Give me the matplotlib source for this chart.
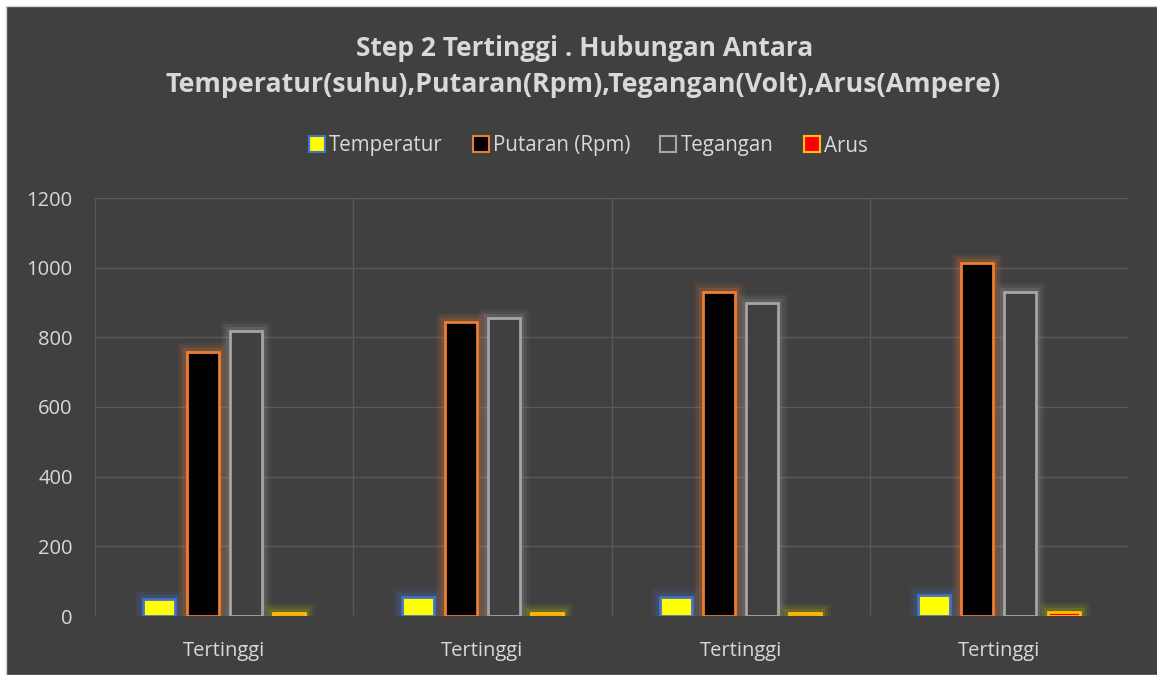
import matplotlib
matplotlib.use("Agg")
import matplotlib.pyplot as plt
import matplotlib.patheffects as pe
from matplotlib.patches import Rectangle
from matplotlib.lines import Line2D
import numpy as np

categories = ["Tertinggi", "Tertinggi", "Tertinggi", "Tertinggi"]
temperatur = [50, 54, 54, 60]
putaran = [758, 844, 930, 1013]
tegangan = [818, 856, 899, 930]
arus = [10, 10, 10, 12]
series_names = ["Temperatur", "Putaran (Rpm)", "Tegangan", "Arus"]
yticks = [0, 200, 400, 600, 800, 1000, 1200]

BG = "#404040"
TXT = "#d9d9d9"
plt.rcParams['font.family'] = ['Open Sans', 'DejaVu Sans']

fig = plt.figure(figsize=(11.57, 6.75), dpi=100, facecolor="white")
fig.patches.append(Rectangle((6/1157, 0), 1, 1 - 6/675, transform=fig.transFigure,
                             facecolor=BG, edgecolor="#d0d0d0", lw=1.0, zorder=-5))
ax = fig.add_axes([95/1157, 1 - 616/675, (1128-95)/1157, (616-198)/675])
ax.set_facecolor(BG)

x = np.arange(len(categories))
w = 0.124
step = 0.167
styles = [
    (temperatur, "#ffff00", "#4472c4", "#4472c4"),
    (putaran, "#000000", "#ed7d31", "#ed7d31"),
    (tegangan, BG, "#a5a5a5", "#a5a5a5"),
    (arus, "#ff0000", "#ffc000", "#c9c900"),
]
for i, (vals, fc, ec, glow) in enumerate(styles):
    off = (i - 1.5) * step
    bars = ax.bar(x + off, vals, width=w, facecolor=fc, edgecolor=ec, linewidth=2, zorder=3)
    for b in bars:
        b.set_path_effects([
            pe.Stroke(linewidth=14, foreground=glow, alpha=0.06),
            pe.Stroke(linewidth=10, foreground=glow, alpha=0.1),
            pe.Stroke(linewidth=6, foreground=glow, alpha=0.18),
            pe.Normal(),
        ])

ax.set_xlim(-0.5, 3.5)
ax.set_ylim(0, 1200)
ax.set_yticks(yticks)
ax.set_yticklabels([str(v) for v in yticks], color=TXT, fontsize=14.5)
ax.set_xticks(x)
ax.set_xticklabels(categories, color=TXT, fontsize=14.5)
ax.tick_params(length=0)
ax.tick_params(axis='y', pad=16)
ax.tick_params(axis='x', pad=18)
for yv in yticks[1:]:
    ax.axhline(yv, color="#595959", lw=1, zorder=1)
for xv in [-0.5, 0.5, 1.5, 2.5, 3.5]:
    ax.axvline(xv, color="#595959", lw=1, zorder=1)
ax.axhline(0, color="#595959", lw=1, zorder=1)
for s in ax.spines.values():
    s.set_visible(False)

fig.text(585/1157, 1 - 48/675, "Step 2 Tertinggi . Hubungan Antara", ha="center", va="center",
         color=TXT, fontsize=19, fontweight="bold")
fig.text(583/1157, 1 - 85/675, "Temperatur(suhu),Putaran(Rpm),Tegangan(Volt),Arus(Ampere)", ha="center",
         va="center", color=TXT, fontsize=19.3, fontweight="bold")

handles = []
for (vals, fc, ec, glow) in styles:
    handles.append(Line2D([], [], marker="s", linestyle="none", markersize=11,
                          markerfacecolor=fc, markeredgecolor=ec, markeredgewidth=1.5))
leg = fig.legend(handles, series_names, loc="center", bbox_to_anchor=(587/1157, 1 - 146/675),
                 ncol=4, frameon=False, fontsize=14.8, labelcolor=TXT, handletextpad=0.1,
                 columnspacing=1.35, handlelength=1.0)

fig.savefig("out.png", dpi=100, facecolor="white")
